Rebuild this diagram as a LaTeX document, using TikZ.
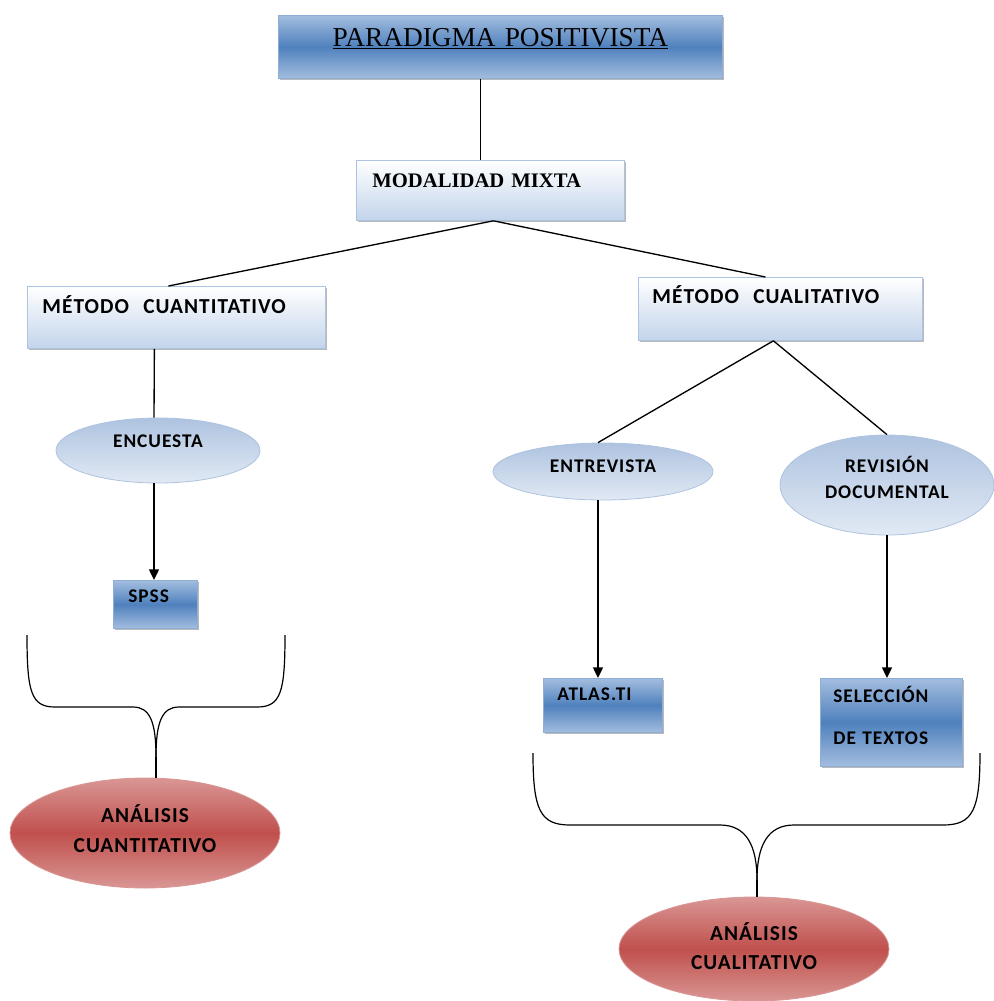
\documentclass[tikz,border=0pt]{standalone}
\usepackage{fontspec}
\setmainfont{Carlito}[LetterSpace=5]
\newfontfamily\timesfam{Liberation Serif}
\usetikzlibrary{shapes.geometric,shadows,arrows.meta}

\definecolor{darkblue}{HTML}{4F81BD}
\definecolor{midblue}{HTML}{A3BDDF}
\definecolor{paleblue}{HTML}{C3D4EB}
\definecolor{ellblue}{HTML}{AEC3E0}
\definecolor{ellpale}{HTML}{E1E9F4}
\definecolor{edgeblue}{HTML}{8FAED6}
\definecolor{darkred}{HTML}{C0504D}
\definecolor{palered}{HTML}{D99694}

\newcommand\bigfont{\fontsize{16}{19}\selectfont\bfseries}
\newcommand\smallfont{\fontsize{14.5}{17}\selectfont\bfseries}

\tikzset{
	every picture/.style={line width=0.75pt},
	boxshadow/.style={drop shadow={shadow xshift=1.5pt,shadow yshift=-1.5pt,fill=black!50,opacity=0.55}},
	darkbox/.style={rectangle, anchor=north west, inner ysep=0pt, draw=edgeblue, line width=0.6pt,
		top color=midblue, bottom color=midblue, middle color=darkblue, align=left, boxshadow},
	lightbox/.style={rectangle, anchor=north west, inner ysep=0pt, draw=paleblue!80!darkblue, line width=0.6pt,
		top color=white, bottom color=paleblue, align=left, boxshadow},
	lightoval/.style={ellipse, inner sep=0pt, draw=ellblue, line width=0.6pt,
		top color=ellblue, bottom color=ellpale, align=center, font=\smallfont},
	redoval/.style={ellipse, inner sep=0pt, draw=palered, line width=0.6pt,
		top color=palered, bottom color=palered, middle color=darkred, align=center,
		font=\fontsize{16}{22.5}\selectfont\bfseries},
	link/.style={draw=black, line width=1pt},
	linkarrow/.style={link, -{Triangle[length=8pt,width=7.5pt]}},
	bracket/.style={draw=black, line width=0.9pt}
}

\begin{document}
\begin{tikzpicture}[x=0.75pt,y=0.75pt,yscale=-1,xscale=1]
	\useasboundingbox (0,0) rectangle (994,1001);

	%Shape: Rectangle -- paradigma
	\node [darkbox, inner xsep=0pt, text width=333pt, align=center, text height=23.25pt, text depth=24pt,
		font=\timesfam\fontsize{20.5}{24}\selectfont] (paradigma) at (278,15) {\underline{PARADIGMA POSITIVISTA}};
	%Shape: Rectangle -- modalidad
	\node [lightbox, inner xsep=12pt, text width=177pt, text height=20.25pt, text depth=24.75pt,
		font=\timesfam\fontsize{15.5}{18}\selectfont\bfseries] (mixta) at (356,160) {MODALIDAD MIXTA};
	%Shape: Rectangle -- metodos
	\node [lightbox, inner xsep=11.25pt, text width=201pt, text height=20.25pt, text depth=26.25pt,
		font=\bigfont] (cuanti) at (27,286) {MÉTODO~~CUANTITATIVO};
	\node [lightbox, inner xsep=10.5pt, text width=192pt, text height=19.5pt, text depth=27.75pt,
		font=\bigfont] (cuali) at (638,277) {MÉTODO~~CUALITATIVO};

	%Shape: Ellipse -- tecnicas
	\node [lightoval, minimum width=153pt, minimum height=48.75pt, text width=100pt,
		text height=8.25pt, text depth=13.5pt] (encuesta) at (158,450.5) {ENCUESTA};
	\node [lightoval, minimum width=165pt, minimum height=42.75pt, text width=100pt,
		text height=8.25pt, text depth=7.5pt] (entrevista) at (603,471.5) {ENTREVISTA};
	\node [lightoval, minimum width=160.5pt, minimum height=75pt, text width=112pt,
		text height=8pt, text depth=27.5pt, font=\fontsize{14.5}{19.5}\selectfont\bfseries] (revision) at (887,485) {REVISIÓN\\DOCUMENTAL};

	%Shape: Rectangle -- herramientas
	\node [darkbox, inner xsep=11.25pt, text width=40.5pt, text height=16.5pt, text depth=19.5pt,
		font=\smallfont] (spss) at (113,580) {SPSS};
	\node [darkbox, inner xsep=10.5pt, text width=68.25pt, text height=16.5pt, text depth=24pt,
		font=\smallfont] (atlas) at (543,678) {ATLAS.TI};
	\node [darkbox, inner xsep=9.75pt, text width=87pt, text height=18pt, text depth=48pt,
		font=\fontsize{14.5}{31.5}\selectfont\bfseries] (seleccion) at (820,678) {SELECCIÓN\\DE TEXTOS};

	%Shape: Ellipse -- analisis
	\node [redoval, minimum width=202.5pt, minimum height=82.5pt, text width=140pt,
		text height=10pt, text depth=26.5pt] (anacuanti) at (145,833) {ANÁLISIS\\CUANTITATIVO};
	\node [redoval, minimum width=202.5pt, minimum height=78pt, text width=140pt,
		text height=10pt, text depth=23.5pt, font=\fontsize{16}{21.75}\selectfont\bfseries] (anacuali) at (754,949) {ANÁLISIS\\CUALITATIVO};

	%Straight Lines
	\draw [link] ([xshift=-15pt]paradigma.south) -- ([xshift=-7.5pt]mixta.north);
	\draw [link] ([xshift=2.25pt]mixta.south) -- ([xshift=-6pt]cuanti.north);
	\draw [link] ([xshift=2.25pt]mixta.south) -- ([xshift=-11.25pt]cuali.north);
	\draw [link] ([xshift=-16.5pt]cuanti.south) -- ([xshift=-3pt]encuesta.north);
	\draw [link] ([xshift=-5.25pt]cuali.south) -- ([xshift=-3.75pt]entrevista.north);
	\draw [link] ([xshift=-5.25pt]cuali.south) -- (revision.north);
	%Arrows
	\draw [linkarrow] ([xshift=-3pt]encuesta.south) -- ([xshift=-3pt]encuesta.south |- spss.north);
	\draw [linkarrow] ([xshift=-3.75pt]entrevista.south) -- ([xshift=-3.75pt]entrevista.south |- atlas.north);
	\draw [linkarrow] (revision.south) -- (revision.south |- seleccion.north);

	%Curve Lines -- llave izquierda
	\coordinate (tipleft) at (156,757);
	\draw [bracket] (27,635) .. controls (27,692) and (31,707) .. (55,707) -- (133,707) .. controls (150,707) and (156,722) .. (tipleft);
	\draw [bracket] (285,635) .. controls (285,692) and (281,707) .. (257,707) -- (179,707) .. controls (162,707) and (156,722) .. (tipleft);
	\draw [bracket] (tipleft) -- (tipleft |- anacuanti.north);
	%Curve Lines -- llave derecha
	\coordinate (tipright) at (757,880);
	\draw [bracket] (533,753) .. controls (533,810) and (540,825) .. (570,825) -- (720,825) .. controls (746,825) and (757,845) .. (tipright);
	\draw [bracket] (980,753) .. controls (980,810) and (973,825) .. (943,825) -- (794,825) .. controls (768,825) and (757,845) .. (tipright);
	\draw [bracket] (tipright) -- (tipright |- anacuali.north);

\end{tikzpicture}
\end{document}
